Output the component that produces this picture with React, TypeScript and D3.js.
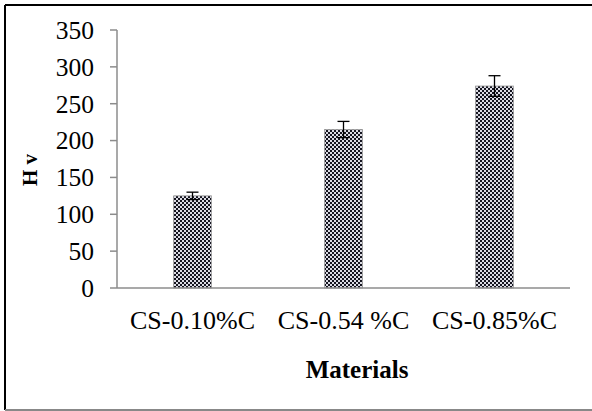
import React from 'react';
import * as d3 from 'd3';

const categories = ['CS-0.10%C', 'CS-0.54 %C', 'CS-0.85%C'];
const hardness = [125, 215, 274];
const errors = [5, 11, 14];
const yTicks = [0, 50, 100, 150, 200, 250, 300, 350];

const W = 592;
const H = 411;
const font = '"Liberation Serif", "Times New Roman", serif';

const App = () => {
  const x = d3
    .scaleBand<string>()
    .domain(categories)
    .range([117, 570])
    .paddingInner(0.75)
    .paddingOuter(0.375);
  const y = d3.scaleLinear().domain([0, 350]).range([288, 30]);

  return (
    <svg
      width={W}
      height={H}
      style={{ position: 'absolute', left: 0, top: 0, background: '#fff' }}
    >
      <defs>
        <pattern id="checker" width="4" height="4" patternUnits="userSpaceOnUse">
          <rect width="4" height="4" fill="#dcdce4" />
          <rect x="0" y="0" width="2" height="2" fill="#15151f" />
          <rect x="2" y="2" width="2" height="2" fill="#15151f" />
        </pattern>
      </defs>

      {/* frame */}
      <line x1={5} x2={W} y1={5} y2={5} stroke="#000" strokeWidth={2} />
      <line x1={5} x2={5} y1={5} y2={410} stroke="#000" strokeWidth={2} />
      <line x1={5} x2={W} y1={410} y2={410} stroke="#888" strokeWidth={2} />

      {/* y axis */}
      <line x1={117} x2={117} y1={y(350)} y2={y(0)} stroke="#8c8c8c" strokeWidth={1.5} />
      {yTicks.map(t => (
        <g key={t}>
          <line x1={110} x2={117} y1={y(t)} y2={y(t)} stroke="#8c8c8c" strokeWidth={1.5} />
          <text
            x={94}
            y={y(t)}
            dy="0.35em"
            textAnchor="end"
            fontFamily={font}
            fontSize={25.5}
            fill="#000"
          >
            {t}
          </text>
        </g>
      ))}

      {/* bars */}
      {categories.map((c, i) => {
        const bx = x(c) as number;
        const cx = bx + x.bandwidth() / 2;
        return (
          <g key={c}>
            <rect
              x={bx}
              y={y(hardness[i])}
              width={x.bandwidth()}
              height={y(0) - y(hardness[i])}
              fill="url(#checker)"
              stroke="#999"
              strokeWidth={0.8}
            />
            <line
              x1={cx}
              x2={cx}
              y1={y(hardness[i] + errors[i])}
              y2={y(hardness[i] - errors[i])}
              stroke="#000"
              strokeWidth={1.3}
            />
            <line
              x1={cx - 6}
              x2={cx + 6}
              y1={y(hardness[i] + errors[i])}
              y2={y(hardness[i] + errors[i])}
              stroke="#000"
              strokeWidth={1.3}
            />
            <line
              x1={cx - 6}
              x2={cx + 6}
              y1={y(hardness[i] - errors[i])}
              y2={y(hardness[i] - errors[i])}
              stroke="#000"
              strokeWidth={1.3}
            />
            <text
              x={cx}
              y={329}
              textAnchor="middle"
              fontFamily={font}
              fontSize={26}
              fill="#000"
            >
              {c}
            </text>
          </g>
        );
      })}

      {/* x axis */}
      <line x1={117} x2={570} y1={y(0)} y2={y(0)} stroke="#8c8c8c" strokeWidth={1.5} />

      <text
        x={357}
        y={378}
        textAnchor="middle"
        fontFamily={font}
        fontSize={25}
        fontWeight="bold"
        fill="#000"
      >
        Materials
      </text>
      <text
        transform="translate(37,170) rotate(-90)"
        textAnchor="middle"
        fontFamily={font}
        fontSize={21}
        fontWeight="bold"
        fill="#000"
      >
        H v
      </text>
    </svg>
  );
};

export default App;
